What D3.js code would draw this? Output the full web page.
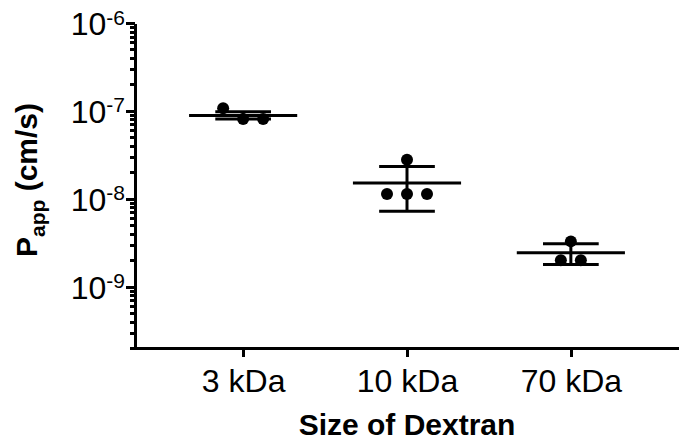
<!DOCTYPE html>
<html>
  <head>
    <title>Papp vs dextran size</title>
    <meta charset="utf-8">
    <style type="text/css">
      body {
        margin: 0;
        background: #fff;
        font-family: "Liberation Sans", Arial, sans-serif;
      }
      .axis path, .axis line {
        stroke: #000;
        stroke-width: 3px;
        shape-rendering: crispEdges;
      }
      .axis text {
        fill: #000;
        font-size: 32px;
      }
      .title {
        font-size: 30px;
        font-weight: bold;
        fill: #000;
      }
      .bar line {
        stroke: #000;
        stroke-width: 3px;
      }
      .dot {
        fill: #000;
      }
    </style>
  </head>
  <body>
    <script src="https://d3js.org/d3.v7.min.js"></script>
    <script>
    // data
    var categories = ["3 kDa", "10 kDa", "70 kDa"];
    var points3 = [1.07e-7, 8.1e-8, 8.1e-8];
    var points10 = [2.77e-8, 1.13e-8, 1.13e-8, 1.13e-8];
    var points70 = [3.27e-9, 1.99e-9, 1.99e-9];
    var means = [8.85e-8, 1.51e-8, 2.42e-9];
    var errLow = [8.1e-8, 7.2e-9, 1.78e-9];
    var errHigh = [9.8e-8, 2.33e-8, 3.08e-9];
    var majorTicks = [1e-9, 1e-8, 1e-7, 1e-6];
    var majorExp = ["-9", "-8", "-7", "-6"];

    var groups = [points3, points10, points70];

    var width = 679, height = 442;
    var plotLeft = 135, plotTop = 23, plotBottom = 348;

    var x = d3.scalePoint()
        .domain(categories)
        .range([plotLeft, width])
        .padding(0.66);

    var y = d3.scaleLog()
        .domain([2e-10, 1e-6])
        .range([plotBottom, plotTop]);

    var svg = d3.select("body").append("svg")
        .attr("width", width)
        .attr("height", height);

    // minor ticks
    svg.append("g")
        .attr("class", "axis")
        .attr("transform", "translate(" + plotLeft + ",0)")
        .call(d3.axisLeft(y).tickValues(y.ticks()).tickSize(5).tickSizeOuter(0).tickFormat(""));

    // major ticks + labels
    var yAxisG = svg.append("g")
        .attr("class", "axis")
        .attr("transform", "translate(" + plotLeft + ",0)")
        .call(d3.axisLeft(y).tickValues(majorTicks).tickSize(9).tickSizeOuter(0).tickPadding(1));

    yAxisG.selectAll(".tick text")
        .text(null)
        .attr("dy", "0.36em")
        .each(function(d, i) {
          var t = d3.select(this);
          t.append("tspan").text("10");
          t.append("tspan")
            .attr("dy", "-0.5em")
            .style("font-size", "21px")
            .text(majorExp[i]);
        });

    var xAxisG = svg.append("g")
        .attr("class", "axis")
        .attr("transform", "translate(0," + plotBottom + ")")
        .call(d3.axisBottom(x).tickSize(9).tickSizeOuter(0).tickPadding(12));
    xAxisG.select(".domain")
        .attr("d", "M" + (plotLeft - 1.5) + ",0H" + width);
    xAxisG.selectAll(".tick text").attr("dy", "0.71em");

    // axis titles
    svg.append("text")
        .attr("class", "title")
        .attr("x", (plotLeft + width) / 2)
        .attr("y", 435)
        .attr("text-anchor", "middle")
        .text("Size of Dextran");

    var yt = svg.append("text")
        .attr("class", "title")
        .attr("text-anchor", "middle")
        .attr("transform", "translate(37,180) rotate(-90)");
    yt.append("tspan").text("P");
    yt.append("tspan").attr("dy", 8).style("font-size", "21px").text("app");
    yt.append("tspan").attr("dy", -8).text(" (cm/s)");

    var step = x.step();

    // error bars and mean lines
    categories.forEach(function(c, i) {
      var cx = x(c);
      var g = svg.append("g").attr("class", "bar");
      g.append("line")
          .attr("x1", cx).attr("x2", cx)
          .attr("y1", y(errHigh[i])).attr("y2", y(errLow[i]));
      g.append("line")
          .attr("x1", cx - step * 0.17).attr("x2", cx + step * 0.17)
          .attr("y1", y(errHigh[i])).attr("y2", y(errHigh[i]));
      g.append("line")
          .attr("x1", cx - step * 0.17).attr("x2", cx + step * 0.17)
          .attr("y1", y(errLow[i])).attr("y2", y(errLow[i]));
      g.append("line")
          .attr("x1", cx - step * 0.33).attr("x2", cx + step * 0.33)
          .attr("y1", y(means[i])).attr("y2", y(means[i]));
    });

    // scatter points, spread sideways where they overlap
    var r = 6, spread = 20;
    groups.forEach(function(vals, i) {
      var cx = x(categories[i]);
      var pts = vals.map(function(v) { return {v: v, py: y(v)}; })
          .sort(function(a, b) { return a.py - b.py; });
      var rows = [];
      pts.forEach(function(p) {
        var row = rows[rows.length - 1];
        if (row && p.py - row[0].py < 2 * r) row.push(p);
        else rows.push([p]);
      });
      rows.forEach(function(row) {
        row.forEach(function(p, k) {
          p.px = cx + (k - (row.length - 1) / 2) * spread;
        });
      });
      svg.selectAll(null)
          .data(pts)
          .enter()
          .append("circle")
          .attr("class", "dot")
          .attr("r", r)
          .attr("cx", function(d) { return d.px; })
          .attr("cy", function(d) { return d.py; });
    });
    </script>
  </body>
</html>
